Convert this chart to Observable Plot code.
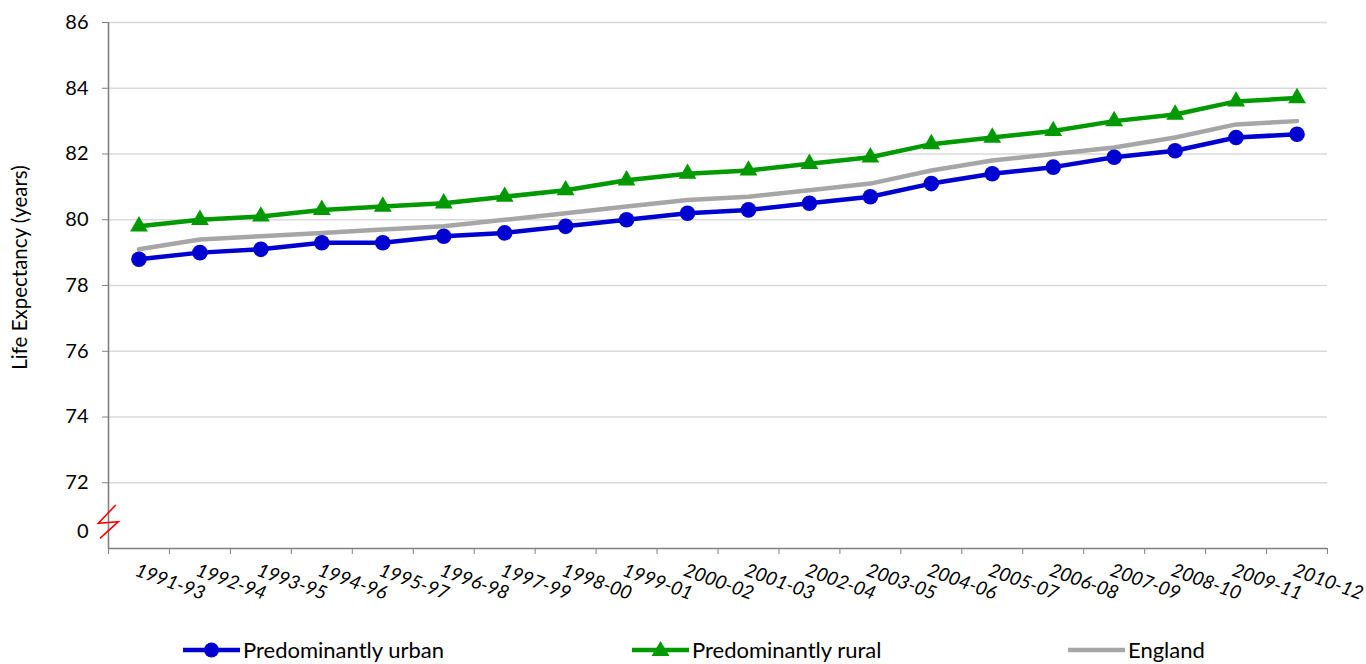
<!DOCTYPE html>
<html><head><meta charset="utf-8">
<script src="https://cdn.jsdelivr.net/npm/d3@7"></script>
<script src="https://cdn.jsdelivr.net/npm/@observablehq/plot@0.6"></script>
<style>
body{margin:0;background:#fff;font-family:Lato,"Liberation Sans",sans-serif;}
#chart{position:relative;width:1366px;height:664px;overflow:hidden;}
#legend{position:absolute;top:636px;left:0;width:1366px;height:27px;}
.item{position:absolute;top:0;display:flex;align-items:center;font-size:22px;color:#000;white-space:nowrap;}
.item svg{margin-right:3px;}
</style></head><body><div id="chart"><div id="legend"></div></div>
<script>
const periods = ["1991-93","1992-94","1993-95","1994-96","1995-97","1996-98","1997-99","1998-00","1999-01","2000-02","2001-03","2002-04","2003-05","2004-06","2005-07","2006-08","2007-09","2008-10","2009-11","2010-12"];
const urban   = [78.8,79.0,79.1,79.3,79.3,79.5,79.6,79.8,80.0,80.2,80.3,80.5,80.7,81.1,81.4,81.6,81.9,82.1,82.5,82.6];
const rural   = [79.8,80.0,80.1,80.3,80.4,80.5,80.7,80.9,81.2,81.4,81.5,81.7,81.9,82.3,82.5,82.7,83.0,83.2,83.6,83.7];
const england = [79.1,79.4,79.5,79.6,79.7,79.8,80.0,80.2,80.4,80.6,80.7,80.9,81.1,81.5,81.8,82.0,82.2,82.5,82.9,83.0];
const yTicks = [72,74,76,78,80,82,84,86];
const yDomain = [70,86];
const breakLabelValue = 70.5, breakLabelText = "0";
const seriesNames = ["Predominantly urban","Predominantly rural","England"];
const seriesColors = ["#0000D0","#009900","#A6A6A6"];
const seriesSymbols = ["circle","triangle",null];
const yTitle = "Life Expectancy (years)";

const seriesValues = [urban, rural, england];
const data = [];
seriesNames.forEach((name, s) => seriesValues[s].forEach((v, i) => data.push({series: name, i, period: periods[i], value: v})));
const boundaries = d3.range(periods.length + 1).map(i => i - 0.5);

const W = 1366, H = 620;
const plot = Plot.plot({
  width: W, height: H,
  marginLeft: 108, marginRight: 39, marginTop: 22, marginBottom: H - 548,
  style: {fontFamily: "Lato, 'Liberation Sans', sans-serif", background: "transparent", overflow: "visible"},
  x: {type: "linear", domain: [-0.5, periods.length - 0.5]},
  y: {domain: yDomain},
  color: {domain: seriesNames, range: seriesColors},
  marks: [
    Plot.gridY(yTicks, {stroke: "#d9d9d9", strokeOpacity: 1, strokeWidth: 1.3}),
    Plot.axisY({ticks: yTicks, tickSize: 6, tickPadding: 14, fontSize: 20, stroke: "#808080", label: null}),
    Plot.axisY({ticks: [breakLabelValue], tickSize: 0, tickPadding: 20, tickFormat: () => breakLabelText, fontSize: 20, label: null}),
    Plot.axisX({ticks: boundaries, tickSize: 6, tickFormat: () => "", stroke: "#808080", label: null}),
    Plot.axisX({ticks: d3.range(periods.length), tickSize: 0, tickFormat: i => periods[i], tickRotate: 20, textAnchor: "start", tickPadding: 21, dx: -3, fontSize: 19, fontStyle: "italic", label: null}),
    Plot.ruleY([yDomain[0]], {stroke: "#808080", strokeWidth: 1.6}),
    Plot.ruleX([-0.5], {stroke: "#808080", strokeWidth: 1.6}),
    Plot.text([yTitle], {frameAnchor: "left", textAnchor: "middle", rotate: -90, dx: -88, dy: -18, fontSize: 20.5, fill: "#000"}),
    Plot.line(data, {x: "i", y: "value", stroke: "series", strokeWidth: 4.5, strokeLinejoin: "round"}),
    Plot.dot(data.filter(d => d.series === seriesNames[0]), {x: "i", y: "value", fill: "series", r: 7.8, symbol: "circle"}),
    Plot.dot(data.filter(d => d.series === seriesNames[1]), {x: "i", y: "value", fill: "series", r: 6.6, symbol: "triangle"})
  ]
});
plot.style.position = "absolute"; plot.style.left = "0"; plot.style.top = "0";
document.getElementById("chart").prepend(plot);

// axis break mark (decoration)
const ns = "http://www.w3.org/2000/svg";
const brk = document.createElementNS(ns, "path");
brk.setAttribute("d", "M115.7,505 L98.3,523.3 L118.3,521.7 L100,538.3");
brk.setAttribute("fill", "none"); brk.setAttribute("stroke", "#ff0000"); brk.setAttribute("stroke-width", "1.6");
plot.appendChild(brk);

// legend
const legendLefts = [183, 632, 1068];
const legend = document.getElementById("legend");
seriesNames.forEach((name, s) => {
  const div = document.createElement("div");
  div.className = "item"; div.style.left = legendLefts[s] + "px";
  let marker = "";
  if (seriesSymbols[s] === "circle") marker = `<circle cx="28.5" cy="14" r="7.5" fill="${seriesColors[s]}"/>`;
  if (seriesSymbols[s] === "triangle") marker = `<path d="M28.5,5 L37.5,20 L19.5,20 Z" fill="${seriesColors[s]}"/>`;
  div.innerHTML = `<svg width="57" height="27"><line x1="0" x2="57" y1="14" y2="14" stroke="${seriesColors[s]}" stroke-width="4.5" stroke-linecap="round"/>${marker}</svg><span>${name}</span>`;
  legend.appendChild(div);
});
</script>
</body></html>
